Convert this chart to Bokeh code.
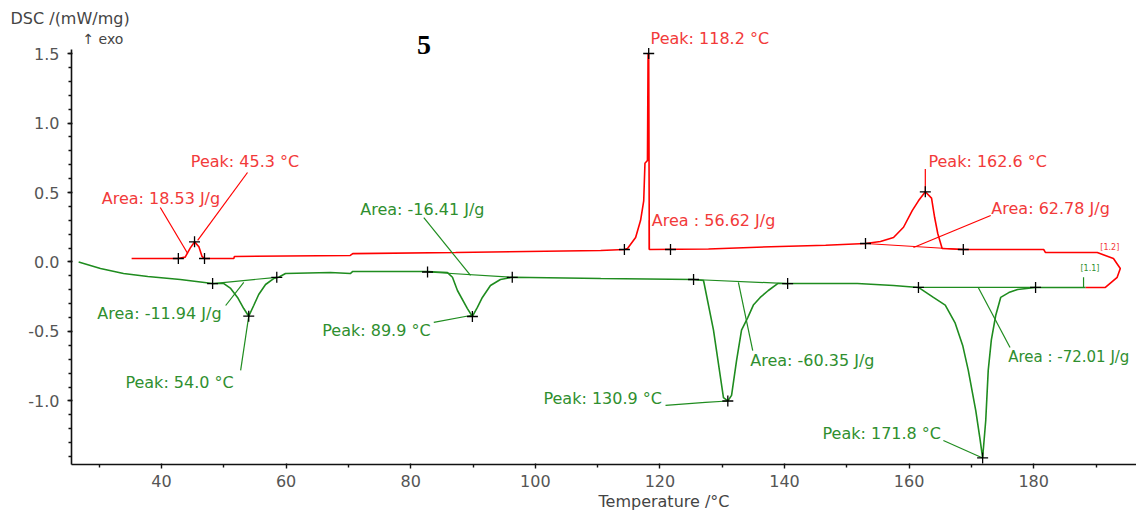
from bokeh.plotting import figure
from bokeh.models import Range1d, FixedTicker, Label, Title, PrintfTickFormatter
from bokeh.embed import file_html
from bokeh.resources import INLINE

# ---------------- data ----------------
red_T = [35.2, 42.7, 43.8, 44.6, 45.3, 46.0, 46.5, 46.9, 51.6, 51.7, 70.3, 70.7, 87.2,
         110.5, 114.3, 114.8, 116.1, 116.9, 117.4, 117.6, 118.0, 118.1, 118.2, 118.3,
         127.8, 137.8, 146.6, 153.0, 155.4, 157.5, 159.1, 160.5, 161.5, 162.6, 163.6,
         164.1, 164.6, 165.3, 168.7, 181.6, 181.9, 190.2, 192.8, 193.9, 193.4, 191.5, 188.3]
red_V = [0.025, 0.025, 0.035, 0.100, 0.145, 0.110, 0.040, 0.025, 0.025, 0.040, 0.047, 0.060, 0.068,
         0.083, 0.090, 0.097, 0.176, 0.300, 0.440, 0.710, 0.730, 1.500, 1.500, 0.090,
         0.094, 0.110, 0.120, 0.133, 0.147, 0.176, 0.250, 0.370, 0.440, 0.505, 0.460,
         0.320, 0.205, 0.097, 0.090, 0.090, 0.068, 0.068, 0.025, -0.047, -0.110, -0.183, -0.183]

green_T = [26.7, 30.2, 33.9, 37.8, 43.0, 48.2, 50.0, 51.1, 52.2, 53.2, 54.0, 54.8, 55.6, 56.7,
           58.0, 58.8, 59.9, 67.1, 70.3, 70.7, 82.7, 85.9, 86.7, 87.5, 89.1, 89.9, 90.7, 91.5,
           92.8, 94.4, 96.3, 110.5, 125.4, 127.0, 128.6, 130.2, 130.9, 131.5, 132.3, 133.1,
           134.1, 135.0, 136.1, 137.4, 138.9, 140.5, 151.7, 157.5, 161.5, 163.9, 165.8, 167.4,
           168.6, 169.5, 170.7, 171.4, 171.8, 172.3, 172.7, 173.2, 173.9, 174.7, 176.0, 177.4,
           180.3, 188.3]
green_V = [0.000, -0.047, -0.083, -0.104, -0.126, -0.155, -0.155, -0.190, -0.255, -0.335, -0.390,
           -0.313, -0.234, -0.162, -0.119, -0.110, -0.083, -0.076, -0.083, -0.068, -0.068, -0.076,
           -0.110, -0.205, -0.335, -0.392, -0.327, -0.255, -0.169, -0.126, -0.110, -0.119, -0.126,
           -0.133, -0.490, -0.975, -1.000, -0.960, -0.710, -0.490, -0.400, -0.310, -0.255, -0.205,
           -0.155, -0.155, -0.155, -0.169, -0.183, -0.255, -0.310, -0.440, -0.600, -0.780, -1.070,
           -1.280, -1.410, -1.140, -0.780, -0.560, -0.385, -0.255, -0.220, -0.198, -0.183, -0.183]

# evaluation marks (+)
red_cross_T = [42.7, 46.9, 45.3, 114.3, 118.2, 121.7, 153.0, 162.6, 168.7]
red_cross_V = [0.025, 0.025, 0.145, 0.090, 1.500, 0.090, 0.133, 0.505, 0.090]
green_cross_T = [48.2, 54.0, 58.5, 82.7, 89.9, 96.3, 125.4, 130.9, 140.5, 161.5, 171.8, 180.3]
green_cross_V = [-0.155, -0.390, -0.110, -0.072, -0.392, -0.110, -0.126, -1.000, -0.155, -0.183, -1.410, -0.183]

# integration baselines
red_base_xs = [[153.0, 168.7]]
red_base_ys = [[0.133, 0.090]]
green_base_xs = [[48.2, 58.5], [82.7, 96.3], [125.4, 140.5], [161.5, 180.3]]
green_base_ys = [[-0.155, -0.110], [-0.072, -0.110], [-0.126, -0.155], [-0.183, -0.183]]

# annotation leader lines
red_lead_xs = [[39.8, 44.2], [53.8, 45.8], [118.3, 118.3], [162.6, 162.6], [173.1, 160.7]]
red_lead_ys = [[0.392, 0.061], [0.644, 0.155], [0.300, 0.090], [0.670, 0.505], [0.335, 0.104]]
green_lead_xs = [[50.3, 53.2], [52.7, 54.0], [82.1, 89.6], [83.7, 89.6, 89.9],
                 [120.9, 127.3, 130.9], [134.9, 132.6], [165.5, 171.8], [176.2, 171.1],
                 [188.0, 188.0]]
green_lead_ys = [[-0.313, -0.147], [-0.780, -0.390], [0.320, -0.097], [-0.435, -0.385, -0.392],
                 [-1.032, -1.010, -1.000], [-0.637, -0.147], [-1.284, -1.410], [-0.615, -0.183],
                 [-0.110, -0.183]]

# annotation texts
red_texts = ["Area: 18.53 J/g", "Peak: 45.3 °C", "Peak: 118.2 °C", "Area : 56.62 J/g",
             "Peak: 162.6 °C", "Area: 62.78 J/g"]
red_text_T = [30.4, 44.7, 118.5, 118.7, 163.1, 173.2]
red_text_V = [0.457, 0.723, 1.608, 0.300, 0.723, 0.385]
green_texts = ["Area: -16.41 J/g", "Area: -11.94 J/g", "Peak: 89.9 °C", "Peak: 54.0 °C",
               "Area: -60.35 J/g", "Peak: 130.9 °C", "Area : -72.01 J/g", "Peak: 171.8 °C"]
green_text_T = [71.9, 29.7, 65.8, 34.2, 134.5, 101.3, 175.9, 146.1]
green_text_V = [0.378, -0.370, -0.493, -0.867, -0.709, -0.982, -0.687, -1.234]
green_text_size = ["16px", "16px", "16px", "16px", "16px", "16px", "15px", "16px"]

x_ticks = [40, 60, 80, 100, 120, 140, 160, 180]
x_minor = [30, 50, 70, 90, 110, 130, 150, 170, 190]
y_ticks = [-1.0, -0.5, 0.0, 0.5, 1.0, 1.5]
y_minor = [round(-1.4 + 0.1 * i, 1) for i in range(30)]

RED = "#ff0000"
GREEN = "#1f8c1f"
RED_TXT = "#f23a3a"
GREEN_TXT = "#2f8f2f"
FONT = "DejaVu Sans"
TXT = "16px"

p = figure(width=1136, height=512, output_backend="svg", toolbar_location=None,
           x_range=Range1d(25.55, 196.5), y_range=Range1d(-1.457, 1.680),
           min_border_left=71, min_border_right=0, min_border_top=28, min_border_bottom=48)
p.grid.visible = False
p.outline_line_color = None
p.background_fill_color = "white"

for ax in (p.xaxis[0], p.yaxis[0]):
    ax.axis_line_color = "#111111"
    ax.axis_line_width = 1.6
    ax.major_tick_line_color = "#111111"
    ax.minor_tick_line_color = "#111111"
    ax.major_tick_line_width = 1.4
    ax.minor_tick_line_width = 1.4
    ax.major_tick_out = 4
    ax.major_tick_in = 1
    ax.minor_tick_out = 3
    ax.minor_tick_in = 0
    ax.major_label_text_font = FONT
    ax.major_label_text_font_size = TXT
    ax.major_label_text_color = "#555555"

p.xaxis.ticker = FixedTicker(ticks=x_ticks, minor_ticks=x_minor)
p.yaxis.ticker = FixedTicker(ticks=y_ticks, minor_ticks=y_minor)
p.yaxis.formatter = PrintfTickFormatter(format="%.1f")
p.yaxis.bounds = (-1.457, 1.53)
p.xaxis.major_label_standoff = 6
p.yaxis.major_label_standoff = 8

# curves
p.line(red_T, red_V, line_color=RED, line_width=1.6)
p.line(green_T, green_V, line_color=GREEN, line_width=1.6)
p.multi_line(red_base_xs, red_base_ys, line_color=RED, line_width=1.2)
p.multi_line(green_base_xs, green_base_ys, line_color=GREEN, line_width=1.2)
p.multi_line(red_lead_xs, red_lead_ys, line_color=RED, line_width=1.2)
p.multi_line(green_lead_xs, green_lead_ys, line_color=GREEN, line_width=1.2)
p.scatter(red_cross_T, red_cross_V, marker="cross", size=11, line_color="black", line_width=1.3)
p.scatter(green_cross_T, green_cross_V, marker="cross", size=11, line_color="black", line_width=1.3)

for t, x, y in zip(red_texts, red_text_T, red_text_V):
    p.add_layout(Label(x=x, y=y, text=t, text_font=FONT, text_font_size=TXT,
                       text_color=RED_TXT, text_baseline="middle", text_align="left"))
for t, x, y, s in zip(green_texts, green_text_T, green_text_V, green_text_size):
    p.add_layout(Label(x=x, y=y, text=t, text_font=FONT, text_font_size=s,
                       text_color=GREEN_TXT, text_baseline="middle", text_align="left"))

p.add_layout(Label(x=190.7, y=0.104, text="[1.2]", text_font=FONT, text_font_size="8px",
                   text_color=RED_TXT, text_baseline="middle"))
p.add_layout(Label(x=187.5, y=-0.047, text="[1.1]", text_font=FONT, text_font_size="8px",
                   text_color=GREEN_TXT, text_baseline="middle"))

p.add_layout(Label(x=27.3, y=1.608, text="↑ exo", text_font=FONT, text_font_size="14px",
                   text_color="#444444", text_baseline="middle"))
p.add_layout(Label(x=81.0, y=1.558, text="5", text_font="Liberation Serif", text_font_size="28px",
                   text_font_style="bold", text_color="black", text_baseline="middle"))

# axis titles
p.title.text = "DSC /(mW/mg)"
p.title.align = "left"
p.title.offset = -61
p.title.standoff = 2
p.title.text_font = FONT
p.title.text_font_size = TXT
p.title.text_font_style = "normal"
p.title.text_color = "#444444"

p.add_layout(Title(text="Temperature /°C", align="left", offset=527, standoff=0,
                   text_font=FONT, text_font_size=TXT, text_font_style="normal",
                   text_color="#444444"), "below")

open("out.html", "w").write(file_html(p, INLINE))
